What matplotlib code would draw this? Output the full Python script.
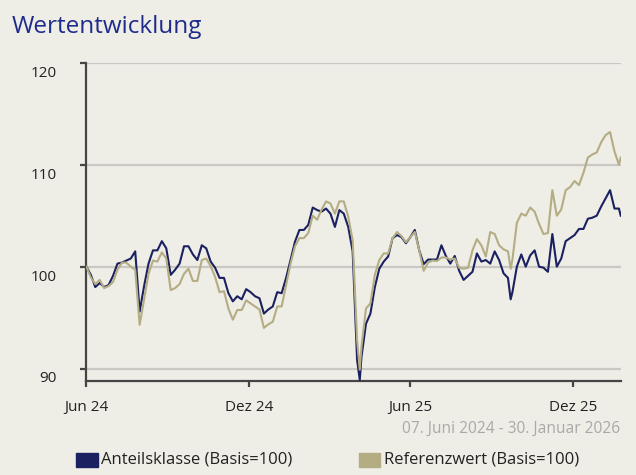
import matplotlib
matplotlib.use("Agg")
import matplotlib.pyplot as plt
import pandas as pd
from matplotlib.transforms import ScaledTranslation
from matplotlib.patches import Rectangle

plt.rcParams['font.family'] = ['Open Sans', 'DejaVu Sans']

# ---------------- data ----------------
start_date = "2024-06-07"
end_date = "2026-01-30"
days_since_start = [
    0, 5, 10, 15, 20, 25, 30, 35, 40, 45, 50, 55, 60, 65, 70, 75, 80, 85, 90, 95,
    100, 105, 110, 115, 120, 125, 130, 135, 140, 145, 150, 155, 160, 165, 170, 175,
    180, 185, 190, 195, 200, 205, 210, 215, 220, 225, 230, 235, 240, 245, 250, 255,
    260, 265, 270, 275, 280, 285, 290, 295, 300, 305, 308, 310, 315, 320, 325, 330,
    335, 340, 345, 350, 355, 360, 365, 370, 375, 380, 385, 390, 395, 400, 405, 410,
    415, 420, 425, 430, 435, 440, 445, 450, 455, 460, 465, 470, 475, 478, 480, 485,
    490, 495, 500, 505, 510, 515, 520, 525, 530, 535, 540, 545, 550, 555, 560, 565,
    570, 575, 580, 585, 590, 595, 600, 602,
]
anteilsklasse = [
    100.0, 99.2, 98.0, 98.4, 98.0, 98.2, 99.1, 100.3, 100.4, 100.6, 100.8, 101.5,
    95.6, 98.1, 100.3, 101.6, 101.6, 102.5, 101.8, 99.2, 99.7, 100.3, 102.0, 102.0,
    101.2, 100.65, 102.1, 101.8, 100.5, 99.9, 98.9, 98.9, 97.4, 96.6, 97.1, 96.8,
    97.8, 97.5, 97.1, 96.9, 95.4, 95.8, 96.1, 97.5, 97.4, 98.9, 100.65, 102.45,
    103.6, 103.6, 104.1, 105.8, 105.55, 105.4, 105.7, 105.2, 103.9, 105.55, 105.2,
    103.9, 101.5, 90.85, 88.9, 91.2, 94.4, 95.4, 98.0, 99.8, 100.5, 101.0, 102.8,
    103.1, 102.9, 102.3, 102.9, 103.6, 101.6, 100.25, 100.7, 100.7, 100.7, 102.1,
    101.05, 100.3, 101.05, 99.6, 98.7, 99.1, 99.5, 101.3, 100.5, 100.65, 100.3,
    101.5, 100.65, 99.35, 98.9, 96.8, 97.5, 100.0, 101.2, 100.0, 101.1, 101.6,
    100.0, 99.9, 99.5, 103.2, 100.0, 100.8, 102.5, 102.8, 103.1, 103.7, 103.7,
    104.7, 104.8, 105.0, 105.9, 106.7, 107.5, 105.7, 105.7, 105.0,
]
referenzwert = [
    100.0, 98.95, 98.3, 98.7, 97.9, 98.1, 98.5, 99.7, 100.4, 100.4, 100.0, 99.7,
    94.3, 96.8, 99.3, 100.6, 100.5, 101.4, 100.8, 97.7, 97.9, 98.3, 99.3, 99.8,
    98.6, 98.6, 100.65, 100.8, 100.05, 99.0, 97.5, 97.6, 95.9, 94.8, 95.75, 95.75,
    96.7, 96.4, 96.1, 95.8, 94.0, 94.35, 94.6, 96.1, 96.1, 98.2, 100.3, 102.0,
    102.8, 102.8, 103.3, 105.0, 104.6, 105.6, 106.4, 106.2, 105.2, 106.4, 106.4,
    104.9, 102.6, 92.8, 89.9, 92.2, 95.9, 96.4, 99.2, 100.65, 101.3, 101.3, 102.8,
    103.4, 103.0, 102.4, 102.9, 103.4, 101.6, 99.6, 100.4, 100.6, 100.55, 100.9,
    100.9, 100.7, 100.8, 99.9, 99.8, 99.9, 101.6, 102.7, 102.1, 101.0, 103.4,
    103.2, 102.1, 101.7, 101.5, 99.8, 100.7, 104.3, 105.2, 105.0, 105.8, 105.4,
    104.2, 103.2, 103.3, 107.5, 105.0, 105.6, 107.5, 107.8, 108.4, 108.0, 109.2,
    110.7, 111.0, 111.2, 112.2, 112.9, 113.2, 111.3, 110.0, 110.7,
]
x_tick_dates = ["2024-06-07", "2024-12-07", "2025-06-07", "2025-12-07"]
x_tick_labels = ["Jun 24", "Dez 24", "Jun 25", "Dez 25"]
y_ticks = [90, 100, 110, 120]
series_labels = ["Anteilsklasse (Basis=100)", "Referenzwert (Basis=100)"]
title = "Wertentwicklung"
period_text = "07. Juni 2024 - 30. Januar 2026"

# ---------------- style ----------------
bg = "#eeede6"
navy = "#1b2160"
khaki = "#b4ad84"
title_color = "#1f2b8c"
spine_color = "#454545"
grid_color = "#c9c8c2"

dates = pd.Timestamp(start_date) + pd.to_timedelta(days_since_start, unit="D")

W, H = 636, 475
fig = plt.figure(figsize=(W / 100, H / 100), dpi=100, facecolor=bg)
ax = fig.add_axes([86.4 / W, 1 - 380.7 / H, (620.7 - 86.4) / W, (380.7 - 62.7) / H])
ax.set_facecolor(bg)

ax.plot(dates, anteilsklasse, color=navy, lw=1.5, zorder=3, solid_joinstyle="round")
ax.plot(dates, referenzwert, color=khaki, lw=1.5, zorder=4, solid_joinstyle="round")

ax.set_xlim(pd.Timestamp(start_date), pd.Timestamp(end_date))
ax.set_ylim(88.82, 120)
ax.set_yticks(y_ticks)
ax.set_yticklabels([str(v) for v in y_ticks])
ax.set_xticks(pd.to_datetime(x_tick_dates))
ax.set_xticklabels(x_tick_labels)

ax.yaxis.grid(True, color=grid_color, lw=1.6)
ax.set_axisbelow(True)
for s in ["top", "right"]:
    ax.spines[s].set_visible(False)
for s in ["left", "bottom"]:
    ax.spines[s].set_color(spine_color)
    ax.spines[s].set_linewidth(1.6)

ax.tick_params(axis="y", direction="out", length=4, width=1.6, color=spine_color,
               pad=17.5, labelsize=11, labelcolor="#222222")
ax.tick_params(axis="x", direction="out", length=4, width=1.6, color=spine_color,
               pad=10, labelsize=11, labelcolor="#222222")
off = ScaledTranslation(0, -6 / 72, fig.dpi_scale_trans)
for lab in ax.get_yticklabels():
    lab.set_transform(lab.get_transform() + off)

fig.text(12 / W, 1 - 27 / H, title, color=title_color, fontsize=17.5, va="center", ha="left")
fig.text(620 / W, 1 - 429 / H, period_text, color="#a9a9a9", fontsize=11.2, va="center", ha="right")

# legend
for x0, col, lab in [(76, navy, series_labels[0]), (358.5, khaki, series_labels[1])]:
    fig.patches.append(Rectangle((x0 / W, 1 - 467.3 / H), 21.5 / W, 14.6 / H,
                                 transform=fig.transFigure, color=col, figure=fig))
    fig.text((x0 + 25) / W, 1 - 459.5 / H, lab, color="#222222", fontsize=12,
             va="center", ha="left")

fig.savefig("out.png", dpi=100, facecolor=bg)
